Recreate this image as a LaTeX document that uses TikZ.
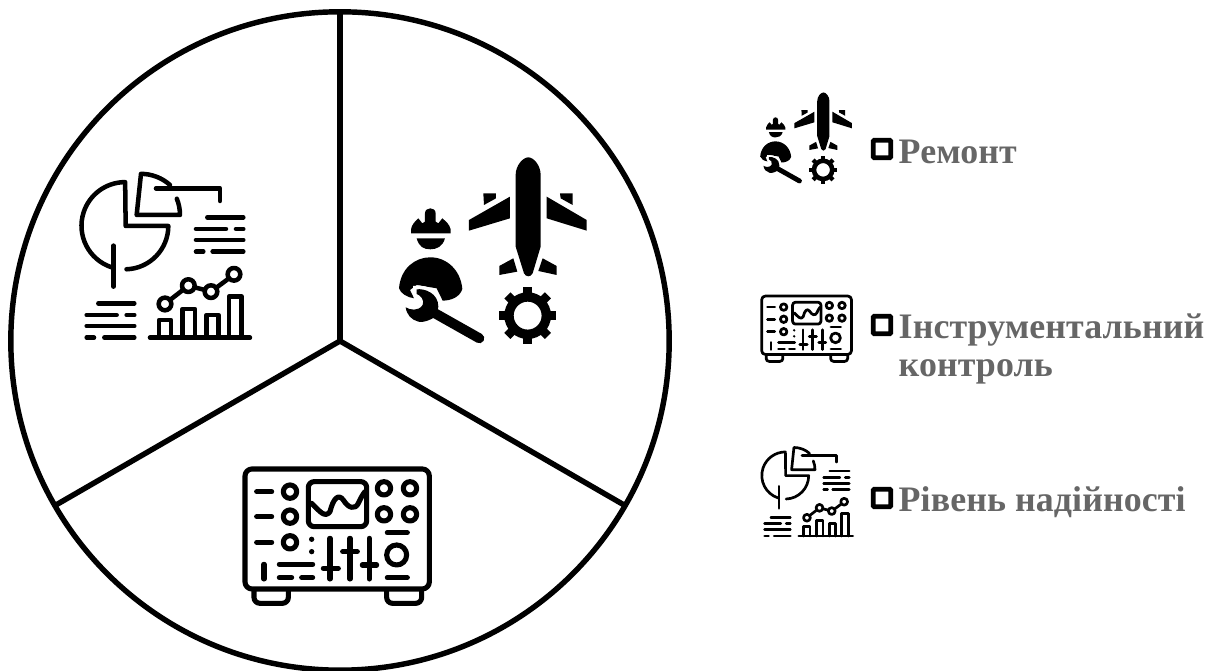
\documentclass[tikz,border=0pt]{standalone}
\usepackage{xcolor}
\usepackage{fontspec}
\newfontfamily\legendfont[LetterSpace=0.3]{Liberation Serif}
\definecolor{legend-gray}{HTML}{666666}
\usepackage{tikz}
\usetikzlibrary{
  positioning
}
\tikzset{
  pics/planeglyph/.style={code={
    \begin{scope}[scale=#1,fill=black,draw=black]
      % aircraft
      \fill (437,105) .. controls (437,75) and (460,52) .. (475,52) .. controls (490,52) and (512,75) .. (512,105)
        -- (512,320) -- (488,400) .. controls (482,412) and (468,412) .. (462,400) -- (437,320) -- cycle;
      \fill (530,170) -- (650,240) -- (650,272) -- (530,235) -- cycle;
      \fill (420,170) -- (297,240) -- (297,272) -- (420,235) -- cycle;
      \fill (340,160) -- (378,160) -- (378,175) -- (342,195) -- cycle;
      \fill (570,160) -- (608,160) -- (608,195) -- (572,175) -- cycle;
      \fill (430,355) -- (442,395) -- (388,405) -- (388,378) -- cycle;
      \fill (518,355) -- (560,378) -- (560,405) -- (505,393) -- cycle;
      % gear
      \draw[line width=#1*8pt] (473,527) circle[radius=56];
      \foreach \gearangle in {0,45,...,315} {
        \draw[line width=#1*7.4pt] (473,527) ++(\gearangle:62) -- ++(\gearangle:24);
      }
      % worker
      \fill (123,280) -- (123,268) .. controls (126,252) and (135,245) .. (145,235) -- (157,250) -- (165,245) -- (165,220)
        .. controls (165,200) and (197,200) .. (197,220) -- (197,245) -- (205,250) -- (217,235) .. controls (228,245) and (238,252) .. (242,268) -- (242,280) -- cycle;
      \fill (140,295) -- (225,295) .. controls (218,320) and (200,328) .. (181,328) .. controls (160,328) and (147,320) .. (140,295) -- cycle;
      \fill (87,445) .. controls (92,385) and (135,352) .. (181,352) .. controls (230,352) and (272,390) .. (277,447)
        .. controls (270,470) and (245,482) .. (218,482) -- (200,445) -- (140,435) -- (120,450) -- (132,475) .. controls (110,472) and (92,460) .. (87,445) -- cycle;
      \path[preaction={draw=white,line width=#1*6pt},fill=black] (140,448) .. controls (165,445) and (205,460) .. (205,500) -- (200,525)
        .. controls (195,535) and (160,550) .. (145,545) .. controls (125,540) and (110,525) .. (107,502)
        .. controls (120,510) and (145,515) .. (158,495) .. controls (165,480) and (150,465) .. (140,462) -- cycle;
      \draw[line width=#1*8.5pt,line cap=round] (195,520) -- (328,595);
    \end{scope}
  }},
  pics/chartglyph/.style={code={
    \begin{scope}[scale=#1,line width=#1*3.4pt+0.15pt,line cap=round,line join=round]
      % pie sectors
      \draw (155,352) arc[start angle=108,end angle=270,radius=131] -- (197,228) -- (325,228) arc[start angle=0,end angle=88,radius=130];
      \draw (160,287) -- (160,410);
      \draw (330,105) arc[start angle=312,end angle=270,radius=130] -- (230,195) -- (360,195) arc[start angle=0,end angle=-22,radius=130];
      \draw (288,115) -- (480,115) -- (480,153);
      % text rows
      \draw (442,202) -- (550,202) (408,237) -- (498,237) (528,237) -- (550,237);
      \draw (408,270) -- (550,270) (408,305) -- (430,305) (458,305) -- (550,305);
      \draw (115,460) -- (223,460) (80,495) -- (170,495) (200,495) -- (223,495);
      \draw (80,528) -- (223,528) (80,563) -- (102,563) (133,563) -- (223,563);
      % bars
      \draw (270,563) -- (570,563);
      \draw (297,563) -- (297,510) -- (333,510) -- (333,563);
      \draw (368,563) -- (368,477) -- (405,477) -- (405,563);
      \draw (440,563) -- (440,495) -- (475,495) -- (475,563);
      \draw (507,563) -- (507,440) -- (545,440) -- (545,563);
      % trend
      \draw (315,462) circle[radius=19] (385,407) circle[radius=19] (453,425) circle[radius=19] (522,373) circle[radius=19];
      \draw (330,450) -- (370,419) (403,412) -- (435,420) (468,414) -- (507,385);
    \end{scope}
  }},
  pics/scopeglyph/.style={code={
    \begin{scope}[scale=#1,line width=#1*3.9pt+0.15pt,line cap=round,line join=round]
      % case and feet
      \draw[rounded corners=#1*6pt] (45,42) rectangle (598,402);
      \draw[rounded corners=#1*5pt] (72,405) -- (72,445) -- (175,445) -- (175,405);
      \draw[rounded corners=#1*5pt] (470,405) -- (470,445) -- (575,445) -- (575,405);
      % screen
      \draw[rounded corners=#1*5pt] (235,80) rectangle (410,215);
      \draw (245,145) .. controls (270,170) and (285,190) .. (300,170) .. controls (310,130) and (325,115) .. (340,135)
        .. controls (355,160) and (375,165) .. (385,145) .. controls (392,130) and (398,118) .. (405,110);
      % knobs
      \foreach \knobx/\knoby in {180/110,180/185,180/262,462/100,540/100,462/178,540/178} {
        \draw (\knobx,\knoby) circle[radius=20];
      }
      \draw (80,110) -- (125,110) (80,185) -- (125,185) (80,262) -- (125,262);
      \fill (245,253) circle[radius=8] (245,290) circle[radius=8];
      % sliders
      \draw (300,250) -- (300,372) (360,250) -- (360,372) (418,250) -- (418,372);
      \draw (280,340) -- (325,340) (338,290) -- (382,290) (397,330) -- (440,330);
      \draw (472,233) -- (532,233) (472,368) -- (532,368);
      \draw (500,300) circle[radius=30];
      \draw (102,328) -- (102,372) (148,328) -- (248,328) (148,368) -- (185,368) (215,368) -- (248,368);
    \end{scope}
  }}
}
\begin{document}
\begin{tikzpicture}[
    x=0.01cm,
    y=-0.01cm,
    disc/.style={
      circle,
      draw=black,
      line width=1.55pt,
      minimum size=6.58cm,
      inner sep=0pt,
      outer sep=0pt
    },
    spoke/.style={
      line width=1.55pt,
      color=black
    },
    bulletbox/.style={
      rectangle,
      draw=black,
      rounded corners=0.3pt,
      line width=1.35pt,
      minimum size=0.175cm,
      inner sep=0pt
    },
    legendlabel/.style={
      anchor=west,
      inner sep=0pt,
      font=\legendfont\bfseries\fontsize{10.2}{10.8}\selectfont,
      text=legend-gray,
      align=left
    }
  ]
    \useasboundingbox (0,0) rectangle (1212,671);

    \node[disc] (wheel) at (340,341) {};
    \coordinate (hub) at (340,341);

    % three sectors
    \draw[spoke] (hub) -- (wheel.90);
    \draw[spoke] (hub) -- (wheel.-30);
    \draw[spoke] (hub) -- (wheel.210);

    % sector icons
    \pic (bigplane) at (370,140) {planeglyph=0.3333};
    \pic (bigchart) at (60,150) {chartglyph=0.3333};
    \pic (bigscope) at (230,455) {scopeglyph=0.3333};

    % legend
    \pic (smallplane) at (746,84) {planeglyph=0.163};
    \node[bulletbox] (repairmark) at (882,149) {};
    \node[legendlabel] (repairlabel) at (898,152) {Ремонт};

    \pic (smallscope) at (754.5,289.3) {scopeglyph=0.162};
    \node[bulletbox] (controlmark) at (882,325) {};
    \node[legendlabel] (controllabel) at (898,349) {Інструментальний\\контроль};

    \pic (smallchart) at (750.2,434.6) {chartglyph=0.18};
    \node[bulletbox] (levelmark) at (882,498) {};
    \node[legendlabel] (levellabel) at (898,502) {Рівень надійності};
  \end{tikzpicture}
\end{document}
